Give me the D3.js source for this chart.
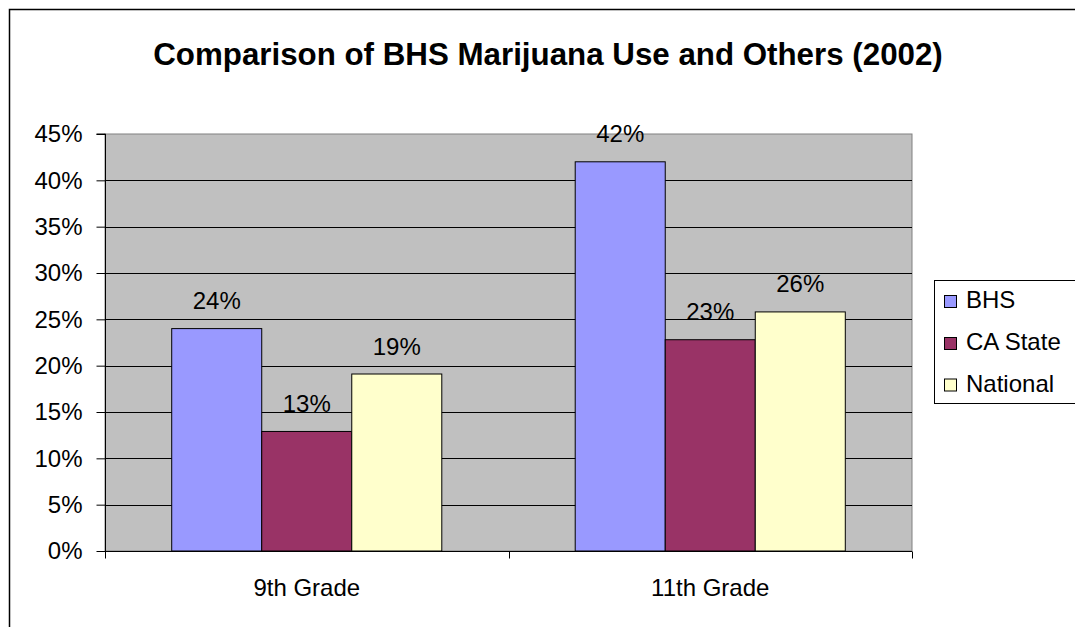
<!DOCTYPE html>
<html>
<head>
<meta charset="utf-8">
<script src="https://cdn.jsdelivr.net/npm/d3@7"></script>
<style>
html,body{margin:0;padding:0;background:#fff;}
svg{display:block;font-family:"Liberation Sans",Arial,sans-serif;}
</style>
</head>
<body>
<svg id="chart" width="1075" height="627"></svg>
<script>
const categories = ["9th Grade", "11th Grade"];
const seriesNames = ["BHS", "CA State", "National"];
const bhs = [24, 42];
const caState = [12.9, 22.8];
const national = [19.1, 25.8];
const bhsLabels = ["24%", "42%"];
const caStateLabels = ["13%", "23%"];
const nationalLabels = ["19%", "26%"];
const yTicks = [0, 5, 10, 15, 20, 25, 30, 35, 40, 45];
const colors = ["#9999FF", "#993366", "#FFFFCC"];
const title = "Comparison of BHS Marijuana Use and Others (2002)";

const series = [bhs, caState, national];
const dataLabels = [bhsLabels, caStateLabels, nationalLabels];

const svg = d3.select("#chart");
const plot = {left: 105, right: 912, top: 134, bottom: 551};

// outer chart border (extends beyond the viewport on right/bottom)
svg.append("rect").attr("x", 9.5).attr("y", 9.5).attr("width", 1200).attr("height", 800)
  .attr("fill", "#fff").attr("stroke", "#000").attr("stroke-width", 1.5);

svg.append("text").attr("x", 548).attr("y", 65).attr("text-anchor", "middle")
  .attr("font-size", 31.3).attr("font-weight", "bold").attr("fill", "#000").text(title);

const y = d3.scaleLinear().domain([0, 45]).range([plot.bottom, plot.top]);
const x0 = d3.scaleBand().domain(categories).range([plot.left, plot.right]).paddingInner(0).paddingOuter(0);
const x1 = d3.scaleBand().domain(seriesNames).range([0, x0.bandwidth()]).paddingInner(0).paddingOuter(0.741);

// plot background
svg.append("rect").attr("x", plot.left).attr("y", plot.top)
  .attr("width", plot.right - plot.left).attr("height", plot.bottom - plot.top)
  .attr("fill", "#C0C0C0").attr("stroke", "#808080").attr("stroke-width", 1);

// gridlines
svg.append("g").selectAll("line").data(yTicks.filter(d => d > 0 && d < 45)).join("line")
  .attr("x1", plot.left).attr("x2", plot.right)
  .attr("y1", d => Math.round(y(d)) + 0.5).attr("y2", d => Math.round(y(d)) + 0.5)
  .attr("stroke", "#000").attr("stroke-width", 1);

// bars
const g = svg.append("g");
categories.forEach((c, ci) => {
  series.forEach((s, si) => {
    const xb = x0(c) + x1(seriesNames[si]);
    g.append("rect")
      .attr("x", xb).attr("y", y(s[ci]))
      .attr("width", x1.bandwidth()).attr("height", plot.bottom - y(s[ci]))
      .attr("fill", colors[si]).attr("stroke", "#000").attr("stroke-width", 1);
    g.append("text")
      .attr("x", xb + x1.bandwidth() / 2).attr("y", y(s[ci]) - 19.5)
      .attr("text-anchor", "middle").attr("font-size", 24).attr("fill", "#000")
      .text(dataLabels[si][ci]);
  });
});

// y axis
const yAxis = d3.axisLeft(y).tickValues(yTicks).tickSize(9).tickPadding(14).tickFormat(d => d + "%");
const ya = svg.append("g").attr("transform", `translate(${plot.left + 0.5},0)`).call(yAxis);
ya.selectAll("text").attr("font-size", 24).attr("font-family", "Liberation Sans, Arial, sans-serif").attr("fill", "#000");
ya.selectAll("line").attr("stroke", "#000");
ya.select(".domain").attr("stroke", "#000").attr("d", `M-9,${plot.top}H0V${plot.bottom + 7}`);

// x axis
const xAxis = d3.axisBottom(x0).tickSize(0).tickPadding(27);
const xa = svg.append("g").attr("transform", `translate(0,${plot.bottom + 0.5})`).call(xAxis);
xa.selectAll("text").attr("font-size", 24).attr("font-family", "Liberation Sans, Arial, sans-serif").attr("fill", "#000");
xa.select(".domain").attr("stroke", "#000").attr("d", `M${plot.left},0H${plot.right}`);
const bounds = [plot.left, x0(categories[1]), plot.right];
xa.selectAll(".bound").data(bounds).join("line").attr("class", "bound")
  .attr("x1", d => Math.round(d) + 0.5).attr("x2", d => Math.round(d) + 0.5)
  .attr("y1", 0).attr("y2", 7).attr("stroke", "#000");

// legend
const lg = svg.append("g");
lg.append("rect").attr("x", 934.5).attr("y", 280.5).attr("width", 200).attr("height", 123)
  .attr("fill", "#fff").attr("stroke", "#000").attr("stroke-width", 1);
const baselines = [308, 350, 391.5];
seriesNames.forEach((n, i) => {
  lg.append("rect").attr("x", 944.5).attr("y", baselines[i] - 12.5).attr("width", 12).attr("height", 12)
    .attr("fill", colors[i]).attr("stroke", "#000").attr("stroke-width", 1);
  lg.append("text").attr("x", 966).attr("y", baselines[i]).attr("font-size", 24).attr("fill", "#000").text(n);
});
</script>
</body>
</html>
